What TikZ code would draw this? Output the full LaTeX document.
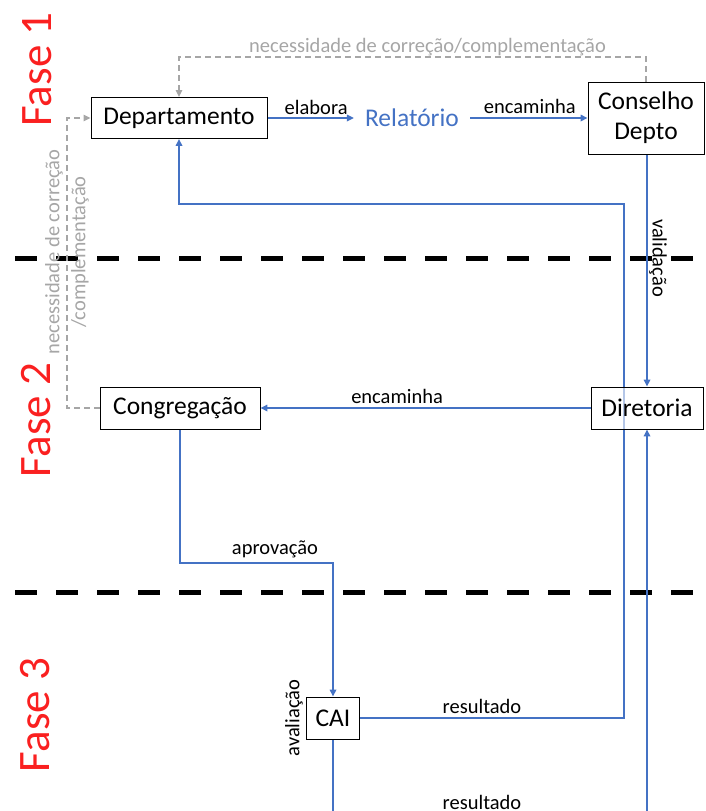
\documentclass[tikz,border=0pt]{standalone}
\usepackage{fontspec}
\setmainfont{Carlito}
\usetikzlibrary{arrows.meta,backgrounds}
\definecolor{cblue}{RGB}{68,114,196}
\definecolor{cgray}{RGB}{166,166,166}
\definecolor{cred}{RGB}{250,32,32}
\begin{document}
\begin{tikzpicture}[x=1pt,y=-1pt,
  boxstyle/.style={draw=black, line width=0.9pt, fill=white, fill opacity=0.6, text opacity=1,
    inner sep=0pt, font=\fontsize{25.5}{30}\selectfont, align=center},
  lbl/.style={font=\fontsize{20.5}{24}\selectfont, inner sep=0pt, text=black},
  glbl/.style={font=\fontsize{20.5}{26}\selectfont, inner sep=0pt, text=cgray, align=center},
  fase/.style={font=\fontsize{45}{50}\selectfont, text=cred, inner sep=0pt, rotate=90},
  bl/.style={draw=cblue, line width=1.6pt},
  blarrow/.style={bl, -{Triangle[length=7pt,width=6.5pt]}},
  gr/.style={draw=cgray, line width=1.4pt, dash pattern=on 6pt off 4pt, -{Triangle[length=7pt,width=6.5pt]}},
  phase/.style={draw=black, line width=5pt, dash pattern=on 22pt off 19pt}]
\useasboundingbox (0,0) rectangle (705,811);
\clip (0,0) rectangle (705,811);

% nodes
\node[boxstyle, minimum width=176pt, minimum height=41pt] (dep) at (179,118) {Departamento};
\node[inner sep=0pt, text=cblue, font=\fontsize{25.5}{30}\selectfont] (rel) at (412,118) {Relatório};
\node[boxstyle, minimum width=116pt, minimum height=72pt] (con) at (646,118) {Conselho\\Depto};
\node[boxstyle, minimum width=112pt, minimum height=42pt] (dir) at (647,408) {Diretoria};
\node[boxstyle, minimum width=160pt, minimum height=42pt] (cong) at (180,408) {Congregação};
\node[boxstyle, minimum width=53pt, minimum height=42pt] (cai) at (333,718) {CAI};

% phase labels
\node[fase] (f1) at (37,69.5) {Fase 1};
\node[fase] (f2) at (36,420) {Fase 2};
\node[fase] (f3) at (35,715) {Fase 3};

% helper coordinates
\coordinate (gtop) at (646,57);
\coordinate (gleft) at (67,408);
\coordinate (ap) at (180,563);
\coordinate (r1a) at (624,718);
\coordinate (r1b) at (624,204);
\coordinate (r1c) at (179,204);
\coordinate (r2a) at (333,830);
\coordinate (r2b) at (647,830);
\coordinate (p1a) at (15,258);
\coordinate (p1b) at (695,258);
\coordinate (p2a) at (15,592);
\coordinate (p2b) at (695,592);

\begin{scope}[on background layer]
  \draw[phase] (p1a) -- (p1b);
  \draw[phase] (p2a) -- (p2b);

  \draw[blarrow, shorten >=11pt] (dep.east) -- node[lbl, pos=0.5, above=3pt] (lelab) {elabora} (rel.west);
  \draw[blarrow, shorten <=11pt] (rel.east) -- node[lbl, pos=0.55, above=4pt] (lenc1) {encaminha} (con.west);

  \draw[gr] (con.north) -- (gtop) -| (dep.north);
  \node[glbl] (lgtop) at (427.5,47) {necessidade de correção/complementação};

  \draw[gr] (cong.west) -- (gleft) |- (dep.west);
  \node[glbl, rotate=90] (lgleft) at (67,252) {necessidade de correção\\/complementação};

  \draw[blarrow] (dir.north |- con.south) -- (dir.north);
  \node[lbl, rotate=-90] (lval) at (658,258) {validação};

  \draw[blarrow] (dir.west) -- node[lbl, pos=0.586, above=4pt] (lenc2) {encaminha} (cong.east);

  \draw[blarrow] (cong.south) -- (ap) -| (cai.north);
  \node[lbl] (lap) at (275,549) {aprovação};
  \node[lbl, rotate=90] (lav) at (294,718) {avaliação};

  \draw[blarrow] (cai.east) -- (r1a) -- (r1b) -- (r1c) -- (dep.south);
  \node[lbl] (lres1) at (482,706) {resultado};

  \draw[blarrow] (cai.south) -- (r2a) -- (r2b) -- (dir.south);
  \node[lbl] (lres2) at (482,802) {resultado};
\end{scope}
\end{tikzpicture}
\end{document}
